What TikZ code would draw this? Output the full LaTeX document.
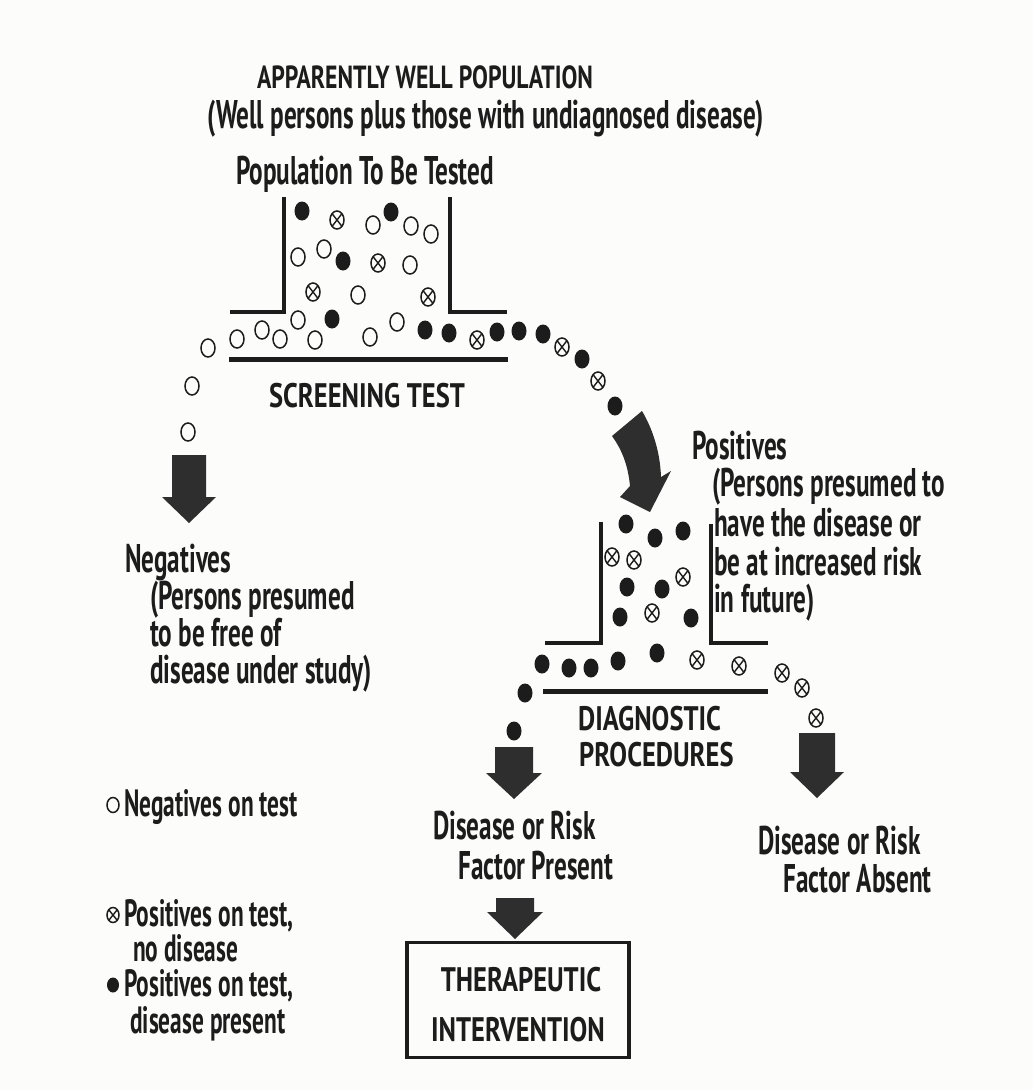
\documentclass[tikz,border=0pt]{standalone}
\usepackage{fontspec}
\setmainfont{PT Sans}
\newfontfamily\bodyfont{PT Sans}[FakeStretch=0.63]
\newfontfamily\capsfont{PT Sans}[FakeStretch=0.78]
\newfontfamily\titlefont{PT Sans}[FakeStretch=0.74]
\newfontfamily\keyfont{PT Sans}[FakeStretch=0.615]
\usetikzlibrary{shapes.geometric}
\definecolor{ink}{HTML}{1C1C1C}
\definecolor{blockfill}{HTML}{2E2E2E}
\definecolor{paper}{HTML}{FCFCFB}
\tikzset{
  txt/.style={inner sep=0, text=ink, font=\bodyfont\bfseries\fontsize{40}{44}\selectfont},
  captxt/.style={inner sep=0, text=ink, font=\capsfont\bfseries\fontsize{34}{40}\selectfont},
  titletxt/.style={inner sep=0, text=ink, font=\titlefont\bfseries\fontsize{32}{38}\selectfont},
  keytxt/.style={inner sep=0, text=ink, anchor=mid west, font=\keyfont\bfseries\fontsize{38}{42}\selectfont},
  dotshape/.style={ellipse, inner sep=0, minimum width=14, minimum height=18},
  negdot/.style={dotshape, draw=ink, line width=1.5},
  posdot/.style={dotshape, fill=ink, minimum width=15, minimum height=19},
  fpdot/.style={negdot, path picture={
      \draw[ink, line width=1.4]
        (path picture bounding box.north west) -- (path picture bounding box.south east)
        (path picture bounding box.north east) -- (path picture bounding box.south west);}},
  keysize/.style={minimum width=12, minimum height=15},
  wall/.style={draw=ink, line width=4},
  floor/.style={draw=ink, line width=5},
  blockarrow/.style={fill=blockfill},
}
% straight block arrow pointing down:
% name, centre x, top of shaft, base of head, tip, half shaft width, half head width
\newcommand\downblock[7]{%
  \coordinate (#1) at (#2,#3);
  \fill[blockarrow] (#2-#6,#3) -- (#2+#6,#3) -- (#2+#6,#4) -- (#2+#7,#4)
    -- (#2,#5) -- (#2-#7,#4) -- (#2-#6,#4) -- cycle;}
\begin{document}
\begin{tikzpicture}[x=1pt,y=-1pt]
\fill[paper] (0,0) rectangle (1033,1090);
\useasboundingbox (0,0) rectangle (1033,1090);

% ---------- headings ----------
\node[titletxt, anchor=mid] (title) at (425,86) {APPARENTLY WELL POPULATION};
\node[txt, anchor=mid] (subtitle) at (486,126) {(Well persons plus those with undiagnosed disease)};
\node[txt, anchor=mid] (tested) at (365,182) {Population To Be Tested};

% ---------- screening funnel ----------
\draw[wall] (230,312) -- (284,312) -- (284,197);
\draw[wall] (450,197) -- (450,312) -- (507,312);
\draw[floor] (229,359) -- (508,359);
\node[captxt, anchor=mid] (screening) at (367,405) {SCREENING TEST};

% population inside the funnel
\node[posdot] (p1)  at (302,211) {};
\node[fpdot]  (p2)  at (337,220) {};
\node[negdot] (p3)  at (373,225) {};
\node[posdot] (p4)  at (391,212) {};
\node[negdot] (p5)  at (411,226) {};
\node[negdot] (p6)  at (431,234) {};
\node[negdot] (p7)  at (298,257) {};
\node[negdot] (p8)  at (324,249) {};
\node[posdot] (p9)  at (343,261) {};
\node[fpdot]  (p10) at (378,263) {};
\node[negdot] (p11) at (410,265) {};
\node[fpdot]  (p12) at (313,292) {};
\node[negdot] (p13) at (358,295) {};
\node[fpdot]  (p14) at (428,297) {};
\node[negdot] (p15) at (298,320) {};
\node[posdot] (p16) at (332,319) {};
\node[negdot] (p17) at (397,322) {};
% stream along the floor
\node[negdot] (s1)  at (237,339) {};
\node[negdot] (s2)  at (262,330) {};
\node[negdot] (s3)  at (280,339) {};
\node[negdot] (s4)  at (315,340) {};
\node[negdot] (s5)  at (370,337) {};
\node[posdot] (s6)  at (425,330) {};
\node[posdot] (s7)  at (449,333) {};
\node[fpdot]  (s8)  at (477,340) {};
\node[posdot] (s9)  at (497,332) {};
\node[posdot] (s10) at (519,331) {};
\node[posdot] (s11) at (543,334) {};
\node[fpdot]  (s12) at (562,347) {};
\node[posdot] (s13) at (582,359) {};
\node[fpdot]  (s14) at (598,381) {};
\node[posdot] (s15) at (615,406) {};
% negatives falling off the left end
\node[negdot] (n1)  at (208,348) {};
\node[negdot] (n2)  at (192,386) {};
\node[negdot] (n3)  at (188,432) {};

% ---------- negatives branch ----------
\downblock{negarrow}{189}{455}{497}{523}{17}{27}
\node[txt, anchor=mid west] (neg1) at (125,570) {Negatives};
\node[txt, anchor=mid west] (neg2) at (150,607) {(Persons presumed};
\node[txt, anchor=mid west] (neg3) at (150,644) {to be free of};
\node[txt, anchor=mid west] (neg4) at (150,681) {disease under study)};

% ---------- curved arrow to the positives ----------
\fill[blockarrow] (612,436) .. controls (622,450) and (628,465) .. (630,486)
  -- (620,497) -- (650,512) -- (671,471) -- (661,477)
  .. controls (660,450) and (652,428) .. (642,411) -- cycle;
\node[txt, anchor=mid west] (posl1) at (692,457) {Positives};
\node[txt, anchor=mid west] (posl2) at (712,494) {(Persons presumed to};
\node[txt, anchor=mid west] (posl3) at (714,534) {have the disease or};
\node[txt, anchor=mid west] (posl4) at (714,573) {be at increased risk};
\node[txt, anchor=mid west] (posl5) at (714,610) {in future)};

% ---------- diagnostic funnel ----------
\draw[wall] (545,643) -- (601,643) -- (601,522);
\draw[wall] (711,524) -- (711,643) -- (768,643);
\draw[floor] (543,691) -- (768,691);
\node[captxt, anchor=mid west] (diag1) at (578,728) {DIAGNOSTIC};
\node[captxt, anchor=mid west] (diag2) at (579,764) {PROCEDURES};

\node[posdot] (d1)  at (626,524) {};
\node[posdot] (d2)  at (655,538) {};
\node[posdot] (d3)  at (683,531) {};
\node[fpdot]  (d4)  at (612,557) {};
\node[fpdot]  (d5)  at (634,560) {};
\node[fpdot]  (d6)  at (683,577) {};
\node[posdot] (d7)  at (627,587) {};
\node[posdot] (d8)  at (662,589) {};
\node[fpdot]  (d9)  at (652,613) {};
\node[posdot] (d10) at (620,617) {};
\node[posdot] (d11) at (691,618) {};
\node[posdot] (d12) at (657,653) {};
\node[posdot] (d13) at (618,661) {};
\node[posdot] (d14) at (591,668) {};
\node[posdot] (d15) at (569,668) {};
\node[posdot] (d16) at (542,664) {};
\node[posdot] (d17) at (525,693) {};
\node[posdot] (d18) at (514,731) {};
\node[fpdot]  (d19) at (697,660) {};
\node[fpdot]  (d20) at (739,666) {};
\node[fpdot]  (d21) at (782,673) {};
\node[fpdot]  (d22) at (802,688) {};
\node[fpdot]  (d23) at (816,718) {};

% ---------- outcomes ----------
\downblock{presentarrow}{514}{747}{773}{799}{19}{28}
\downblock{absentarrow}{817}{733}{772}{798}{18}{27}
\node[txt, anchor=mid west] (pres1) at (433,837) {Disease or Risk};
\node[txt, anchor=mid west] (pres2) at (458,877) {Factor Present};
\node[txt, anchor=mid west] (abs1) at (758,852) {Disease or Risk};
\node[txt, anchor=mid west] (abs2) at (783,890) {Factor Absent};

\downblock{therapyarrow}{515}{898}{912}{939}{19}{28}
\node[draw=ink, line width=3.5, minimum width=222, minimum height=115, inner sep=0]
      (therapy) at (518,1000) {};
\node[captxt, anchor=mid] (therapy1) at (521,989) {THERAPEUTIC};
\node[captxt, anchor=mid] (therapy2) at (518,1039) {INTERVENTION};

% ---------- legend ----------
\node[negdot, keysize] (keyneg) at (113,805) {};
\node[keytxt] (keynegt) at (124,814) {Negatives on test};
\node[fpdot, keysize] (keyfp) at (113,915) {};
\node[keytxt] (keyfpt1) at (124,924) {Positives on test,};
\node[keytxt] (keyfpt2) at (133,959) {no disease};
\node[posdot, keysize] (keytp) at (113,985) {};
\node[keytxt] (keytpt1) at (124,994) {Positives on test,};
\node[keytxt] (keytpt2) at (130,1031) {disease present};
\end{tikzpicture}
\end{document}
